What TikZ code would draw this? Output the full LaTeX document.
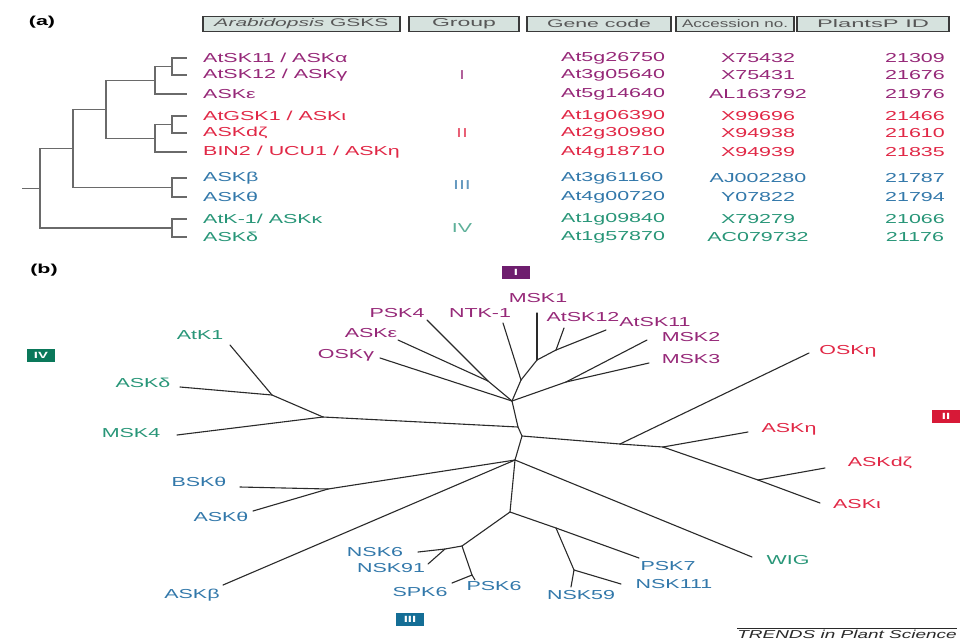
\documentclass[tikz,border=0pt]{standalone}
\usepackage{fontspec}
\usepackage{graphicx}
\setmainfont{Liberation Sans}[FakeStretch=1.65]
\definecolor{cI}{HTML}{962878}
\definecolor{cII}{HTML}{E12846}
\definecolor{cIII}{HTML}{3278AA}
\definecolor{cIV}{HTML}{289678}
\definecolor{bI}{HTML}{6E1E6E}
\definecolor{bII}{HTML}{D71937}
\definecolor{bIII}{HTML}{146E96}
\definecolor{bIV}{HTML}{0A785A}
\definecolor{hdrfill}{HTML}{D6E2DE}
\definecolor{hdrline}{HTML}{3A3A3A}
\definecolor{linec}{HTML}{2A2A2A}
\definecolor{cladc}{HTML}{6A6A6A}
\newcommand{\hdrtxt}[2]{\resizebox{#1pt}{8pt}{#2}}
\begin{document}
\begin{tikzpicture}[x=1pt,y=-1pt,
  lbl/.style={font=\fontsize{13}{15}\selectfont, inner sep=0pt},
  gI/.style={lbl, text=cI}, gII/.style={lbl, text=cII},
  gIII/.style={lbl, text=cIII}, gIV/.style={lbl, text=cIV},
  grp/.style={lbl, opacity=0.75},
  br/.style={line width=1.1pt, draw=linec, line cap=round},
  clad/.style={line width=1.3pt, draw=cladc},
  hdr/.style={draw=hdrline, fill=hdrfill, line width=0.8pt, minimum height=15pt, inner sep=0pt, text=hdrline!85},
  gbox/.style={minimum width=28pt, minimum height=13pt, inner sep=0pt, text=white, font=\fontsize{9}{10}\selectfont\bfseries},
  panel/.style={font=\fontsize{13}{15}\selectfont\bfseries, inner sep=0pt}
]
\useasboundingbox (0,0) rectangle (968,640);
\fill[white] (0,0) rectangle (968,640);

% ---------- panel (a) ----------
\node[panel] (pa) at (42,22) {(a)};
\node[hdr, minimum width=197pt] (h1) at (301.5,24) {\hdrtxt{174}{\textit{Arabidopsis} GSKS}};
\node[hdr, minimum width=110pt] (h2) at (464,24) {\hdrtxt{64}{Group}};
\node[hdr, minimum width=144pt] (h3) at (599,24) {\hdrtxt{104}{Gene code}};
\node[hdr, minimum width=118pt] (h4) at (735,24) {\hdrtxt{106}{Accession no.}};
\node[hdr, minimum width=152pt] (h5) at (873,24) {\hdrtxt{112}{PlantsP ID}};
\foreach \h in {h1,h2,h3,h4,h5}{
  \draw[hdrline, line width=2pt] (\h.south west) -- (\h.north west);
  \draw[hdrline, line width=2pt] (\h.south east) -- (\h.north east);
}

% leaf tips of cladogram
\foreach \i/\y in {1/58,2/75,3/94,4/116,5/133,6/152,7/178,8/197,9/219,10/237}{
  \coordinate (L\i) at (187,\y);
}
\coordinate (n12) at (172,66.5);
\coordinate (nI) at (155,80.25);
\coordinate (nG) at (172,124.5);
\coordinate (nII) at (155,138.25);
\coordinate (nB) at (106,109.25);
\coordinate (nIII) at (172,187.5);
\coordinate (nA) at (73,148.4);
\coordinate (nIV) at (172,228);
\coordinate (rt) at (40,188.2);
\coordinate (rs) at (22,188.2);
\draw[clad] (n12) |- (L1); \draw[clad] (n12) |- (L2);
\draw[clad] (nI) |- (n12); \draw[clad] (nI) |- (L3);
\draw[clad] (nG) |- (L4); \draw[clad] (nG) |- (L5);
\draw[clad] (nII) |- (nG); \draw[clad] (nII) |- (L6);
\draw[clad] (nB) |- (nI); \draw[clad] (nB) |- (nII);
\draw[clad] (nIII) |- (L7); \draw[clad] (nIII) |- (L8);
\draw[clad] (nA) |- (nB); \draw[clad] (nA) |- (nIII);
\draw[clad] (nIV) |- (L9); \draw[clad] (nIV) |- (L10);
\draw[clad] (rt) |- (nA); \draw[clad] (rt) |- (nIV);
\draw[clad] (rs) -- (rt);

% table rows
\foreach \i/\y/\st/\nm/\gc/\acc/\pid in {
  1/58/gI/{AtSK11 / ASKα}/At5g26750/X75432/21309,
  2/75/gI/{AtSK12 / ASKγ}/At3g05640/X75431/21676,
  3/94/gI/{ASKε}/At5g14640/AL163792/21976,
  4/116/gII/{AtGSK1 / ASKι}/At1g06390/X99696/21466,
  5/133/gII/{ASKdζ}/At2g30980/X94938/21610,
  6/152/gII/{BIN2 / UCU1 / ASKη}/At4g18710/X94939/21835,
  7/178/gIII/{ASKβ}/At3g61160/AJ002280/21787,
  8/197/gIII/{ASKθ}/At4g00720/Y07822/21794,
  9/219/gIV/{AtK-1/ ASKκ}/At1g09840/X79279/21066,
  10/237/gIV/{ASKδ}/At1g57870/AC079732/21176}{
  \node[\st, anchor=west] (nm\i) at (203,\y) {\nm};
  \node[\st, anchor=west] (gc\i) at (561,\y) {\gc};
  \node[\st] (ac\i) at (758,\y) {\acc};
  \node[\st] (id\i) at (915,\y) {\pid};
}
\node[grp, text=cI] (grI) at (462,75) {I};
\node[grp, text=cII] (grII) at (462,133) {II};
\node[grp, text=cIII] (grIII) at (462,185) {III};
\node[grp, text=cIV] (grIV) at (462,228) {IV};

% ---------- panel (b) ----------
\node[panel] (pb) at (44,270) {(b)};
\node[gbox, fill=bI] (bxI) at (516,272) {I};
\node[gbox, fill=bII] (bxII) at (946,416) {II};
\node[gbox, fill=bIII] (bxIII) at (410,619) {III};
\node[gbox, fill=bIV] (bxIV) at (41,355) {IV};

% leaf labels
\node[gI] (tPSK4) at (397,313) {PSK4};
\node[gI] (tNTK) at (480,313) {NTK-1};
\node[gI] (tMSK1) at (538,298) {MSK1};
\node[gI] (tAt12) at (583,317) {AtSK12};
\node[gI] (tAt11) at (655,322) {AtSK11};
\node[gI] (tASKe) at (371,333) {ASKε};
\node[gI] (tMSK2) at (691,337) {MSK2};
\node[gI] (tOSKg) at (346,355) {OSKγ};
\node[gI] (tMSK3) at (691,359) {MSK3};
\node[gIV] (tAtK1) at (200,335) {AtK1};
\node[gIV] (tASKd) at (143,383) {ASKδ};
\node[gIV] (tMSK4) at (131,433) {MSK4};
\node[gIII] (tBSKt) at (199,482) {BSKθ};
\node[gIII] (tASKt) at (221,517) {ASKθ};
\node[gIII] (tASKb) at (192,595) {ASKβ};
\node[gIII] (tNSK6) at (375,552) {NSK6};
\node[gIII] (tNSK91) at (391,568) {NSK91};
\node[gIII] (tSPK6) at (420,592) {SPK6};
\node[gIII] (tPSK6) at (494,586) {PSK6};
\node[gIII] (tNSK59) at (581,595) {NSK59};
\node[gIII] (tNSK111) at (674,584) {NSK111};
\node[gIII] (tPSK7) at (668,566) {PSK7};
\node[gIV] (tWIG) at (788,560) {WIG};
\node[gII] (tOSKh) at (848,351) {OSKη};
\node[gII] (tASKh) at (789,429) {ASKη};
\node[gII] (tASKdz) at (880,463) {ASKdζ};
\node[gII] (tASKi) at (857,504) {ASKι};

% branch ends
\coordinate (ePSK4) at (427,320);
\coordinate (eNTK) at (503,323);
\coordinate (eMSK1) at (537,313);
\coordinate (eAt12) at (564,328);
\coordinate (eAt11) at (606,330);
\coordinate (eASKe) at (398,340);
\coordinate (eMSK2) at (647,340);
\coordinate (eOSKg) at (380,358);
\coordinate (eMSK3) at (649,363);
\coordinate (eAtK1) at (230,345);
\coordinate (eASKd) at (180,387);
\coordinate (eMSK4) at (177,435);
\coordinate (eBSKt) at (240,487);
\coordinate (eASKt) at (253,511);
\coordinate (eASKb) at (223,585);
\coordinate (eNSK6) at (418,552);
\coordinate (eNSK91) at (428,564);
\coordinate (eSPK6) at (452,583);
\coordinate (ePSK6) at (475,580);
\coordinate (eNSK59) at (571,587);
\coordinate (eNSK111) at (621,584);
\coordinate (ePSK7) at (639,558);
\coordinate (eWIG) at (752,557);
\coordinate (eOSKh) at (809,353);
\coordinate (eASKh) at (748,432);
\coordinate (eASKdz) at (825,468);
\coordinate (eASKi) at (820,503);

% internal nodes
\coordinate (PE) at (488,381);
\coordinate (NT) at (521,380);
\coordinate (M1) at (537,360);
\coordinate (A11) at (556,350);
\coordinate (M23) at (566,382);
\coordinate (c1) at (512,401);
\coordinate (c2a) at (518,427);
\coordinate (c2b) at (522,436);
\coordinate (c3) at (515,460);
\coordinate (c4) at (510,512);
\coordinate (g1) at (272,395);
\coordinate (g2) at (323,417);
\coordinate (r1) at (620,444);
\coordinate (r2) at (663,447);
\coordinate (r3) at (758,480);
\coordinate (L1b) at (328,489);
\coordinate (n1) at (462,546);
\coordinate (k1) at (445,549);
\coordinate (n3) at (472,575);
\coordinate (n2) at (556,528);
\coordinate (n4) at (574,570);

% spine
\draw[br] (c1) -- (c2a) -- (c2b) -- (c3) -- (c4);
% group I
\draw[br] (PE) -- (c1); \draw[br] (eOSKg) -- (c1);
\draw[br] (NT) -- (c1); \draw[br] (M23) -- (c1);
\draw[br] (ePSK4) -- (PE); \draw[br] (eASKe) -- (PE);
\draw[br] (eNTK) -- (NT); \draw[br] (M1) -- (NT);
\draw[br] (eMSK1) -- (M1); \draw[br] (A11) -- (M1);
\draw[br] (eAt12) -- (A11); \draw[br] (eAt11) -- (A11);
\draw[br] (eMSK2) -- (M23); \draw[br] (eMSK3) -- (M23);
% group IV
\draw[br] (g2) -- (c2a); \draw[br] (g1) -- (g2);
\draw[br] (eAtK1) -- (g1); \draw[br] (eASKd) -- (g1);
\draw[br] (eMSK4) -- (g2);
% group II
\draw[br] (c2b) -- (r1); \draw[br] (r1) -- (eOSKh);
\draw[br] (r1) -- (r2); \draw[br] (r2) -- (eASKh);
\draw[br] (r2) -- (r3); \draw[br] (r3) -- (eASKdz);
\draw[br] (r3) -- (eASKi);
% group III and WIG
\draw[br] (c3) -- (L1b); \draw[br] (L1b) -- (eBSKt);
\draw[br] (L1b) -- (eASKt); \draw[br] (c3) -- (eASKb);
\draw[br] (c3) -- (eWIG);
\draw[br] (c4) -- (n1); \draw[br] (n1) -- (k1) -- (eNSK6);
\draw[br] (k1) -- (eNSK91); \draw[br] (n1) -- (n3);
\draw[br] (n3) -- (eSPK6); \draw[br] (n3) -- (ePSK6);
\draw[br] (c4) -- (n2); \draw[br] (n2) -- (ePSK7);
\draw[br] (n2) -- (n4); \draw[br] (n4) -- (eNSK59);
\draw[br] (n4) -- (eNSK111);

% credit
\node[font=\fontsize{11.5}{13}\selectfont\itshape, text=linec, inner sep=0pt] (trends) at (847,634) {TRENDS in Plant Science};
\draw[linec, line width=0.8pt] ([yshift=1pt]trends.north west) -- ([yshift=1pt]trends.north east);
\end{tikzpicture}
\end{document}
